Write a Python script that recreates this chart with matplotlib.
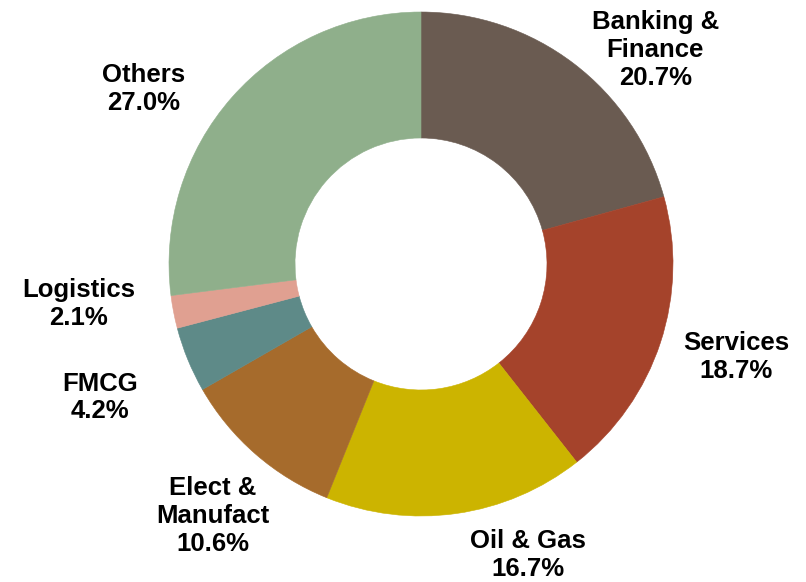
import matplotlib
matplotlib.use('Agg')
import matplotlib.pyplot as plt

# sector split of the portfolio, clockwise from 12 o'clock
sectors = ['Banking &\nFinance', 'Services', 'Oil & Gas', 'Elect &\nManufact',
           'FMCG', 'Logistics', 'Others']
shares = [20.7, 18.7, 16.7, 10.6, 4.2, 2.1, 27.0]
colors = ['#6A5B51', '#A5432B', '#CCB400', '#A66B2C',
          '#5E8A88', '#E0A091', '#8FAF8B']

# label anchors in pie units (radius = 1)
label_pos = [(0.93, 0.85), (1.25, -0.37), (0.425, -1.155), (-0.825, -1.0),
             (-1.274, -0.53), (-1.36, -0.16), (-1.10, 0.695)]

plt.rcParams['font.family'] = ['Liberation Sans', 'DejaVu Sans']

fig = plt.figure(figsize=(8.06, 5.82), dpi=100)
ax = fig.add_axes([0, 0, 1, 1])

wedges, _ = ax.pie(
    shares, colors=colors, startangle=90, counterclock=False,
    radius=1.0, wedgeprops=dict(width=0.5, edgecolor='none', linewidth=0),
)
for w, c in zip(wedges, colors):
    w.set_edgecolor(c)
    w.set_linewidth(0.4)

for name, val, (x, y) in zip(sectors, shares, label_pos):
    ax.text(x, y, f'{name}\n{val:.1f}%', ha='center', va='center',
            fontsize=18.5, fontweight='bold', linespacing=1.2, color='black')

# 252 px per unit, pie centre at (421, 264) px
ax.set_xlim(-421 / 252, (806 - 421) / 252)
ax.set_ylim(-(582 - 264) / 252, 264 / 252)
ax.set_aspect('auto')
ax.axis('off')

plt.savefig('out.png', dpi=100)
plt.close(fig)
